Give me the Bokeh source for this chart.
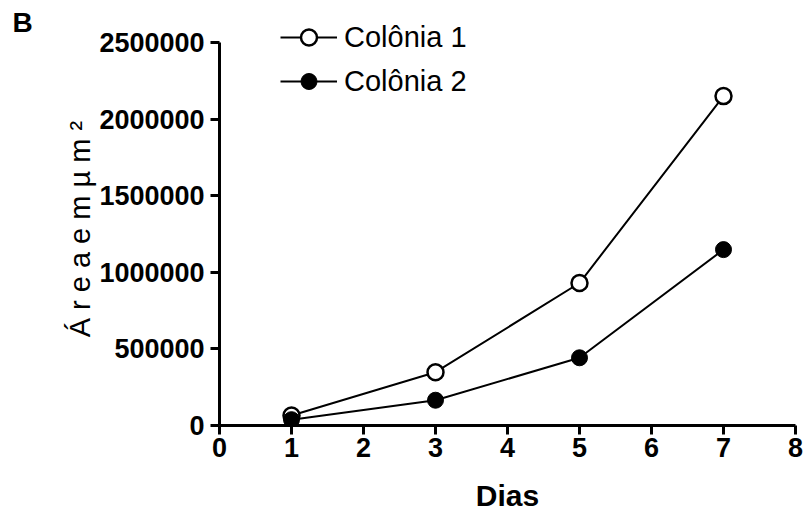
from bokeh.plotting import figure
from bokeh.models import Range1d, FixedTicker, BasicTickFormatter, Label
from bokeh.embed import file_html
from bokeh.resources import INLINE

dias = [1, 3, 5, 7]
colonia1 = [65000, 348000, 930000, 2150000]
colonia2 = [38000, 165000, 442000, 1148000]
x_ticks = [0, 1, 2, 3, 4, 5, 6, 7, 8]
y_ticks = [0, 500000, 1000000, 1500000, 2000000, 2500000]
series_names = ["Colônia 1", "Colônia 2"]

FONT = "Liberation Sans"

# frame reaches the top of the canvas so the legend fits; 2500000 lands 42px below
p = figure(width=807, height=518, output_backend="svg", toolbar_location=None,
           x_range=Range1d(0, 8), y_range=Range1d(0, 2774000),
           min_border_left=219, min_border_right=12, min_border_top=0, min_border_bottom=93)
p.outline_line_color = None
p.xgrid.visible = False
p.ygrid.visible = False
p.background_fill_color = "white"
p.border_fill_color = "white"

for ax in (p.xaxis[0], p.yaxis[0]):
    ax.axis_line_width = 3
    ax.axis_line_color = "black"
    ax.major_tick_line_width = 3
    ax.major_tick_line_color = "black"
    ax.major_tick_out = 9
    ax.major_tick_in = 0
    ax.minor_tick_line_color = None
    ax.major_label_text_font = FONT
    ax.major_label_text_font_style = "bold"
    ax.major_label_text_font_size = "27px"
    ax.major_label_text_color = "black"

p.xaxis.ticker = FixedTicker(ticks=x_ticks)
p.yaxis.ticker = FixedTicker(ticks=y_ticks)
p.yaxis.bounds = (0, 2500000)
p.yaxis.formatter = BasicTickFormatter(use_scientific=False)
p.xaxis.major_label_standoff = 3
p.yaxis.major_label_standoff = 6

p.xaxis.axis_label = "Dias"
p.xaxis.axis_label_text_font = FONT
p.xaxis.axis_label_text_font_style = "bold"
p.xaxis.axis_label_text_font_size = "30px"
p.xaxis.axis_label_text_color = "black"
p.xaxis.axis_label_standoff = 19

p.yaxis.axis_label = "Á r e a   e m   µ m ²"
p.yaxis.axis_label_text_font = FONT
p.yaxis.axis_label_text_font_style = "normal"
p.yaxis.axis_label_text_font_size = "29px"
p.yaxis.axis_label_text_color = "black"
p.yaxis.axis_label_standoff = 0

p.line(dias, colonia1, line_color="black", line_width=2, legend_label=series_names[0])
p.scatter(dias, colonia1, marker="circle", size=16, fill_color="white",
          line_color="black", line_width=2.5, legend_label=series_names[0])
p.line(dias, colonia2, line_color="black", line_width=2, legend_label=series_names[1])
p.scatter(dias, colonia2, marker="circle", size=16, fill_color="black",
          line_color="black", line_width=1, legend_label=series_names[1])

lg = p.legend[0]
lg.location = (61, 324)
lg.border_line_color = None
lg.background_fill_alpha = 0
lg.padding = 0
lg.margin = 0
lg.spacing = 4
lg.glyph_width = 57
lg.glyph_height = 40
lg.label_standoff = 7
lg.label_text_font = FONT
lg.label_text_font_size = "29px"
lg.label_text_color = "black"
lg.label_height = 40

p.add_layout(Label(x=-29, y=403, x_units="screen", y_units="screen", text="B",
                   text_font=FONT, text_font_style="bold", text_font_size="28px",
                   text_color="black", text_baseline="alphabetic", text_align="left"), "left")

open("out.html", "w").write(file_html(p, INLINE))
